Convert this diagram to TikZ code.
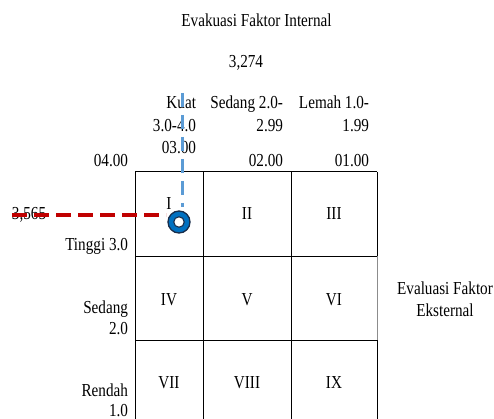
\documentclass[tikz,border=0pt]{standalone}
\usepackage{fontspec}
\setmainfont[FakeStretch=0.83]{Liberation Serif}
\definecolor{dkred}{RGB}{192,0,0}
\definecolor{ltblue}{RGB}{91,155,213}
\definecolor{ringblue}{RGB}{0,112,192}
\definecolor{ringedge}{RGB}{25,45,75}
\begin{document}
\begin{tikzpicture}[x=1pt,y=-1pt,
  every node/.style={inner sep=0pt, outer sep=0pt, font=\fontsize{18.3}{22}\selectfont},
  rlbl/.style={anchor=base east},
  clbl/.style={anchor=base},
  gridline/.style={line width=1pt, black},
  reddash/.style={dkred, line width=4pt, dash pattern=on 15pt off 7pt},
  bluedash/.style={ltblue, line width=3pt, dash pattern=on 14pt off 8pt}]
\useasboundingbox (0,0) rectangle (494,419);

% grid
\draw[gridline] (135,172) -- (377,172);
\draw[gridline] (135,256) -- (377,256);
\draw[gridline] (135,340) -- (377,340);
\draw[gridline] (135,172) -- (135,419);
\draw[gridline] (203,172) -- (203,419);
\draw[gridline] (291,172) -- (291,419);
\draw[gridline] (377,172) -- (377,256);
\draw[line width=1pt, black!45] (377,256) -- (377,340);
\draw[gridline] (377,340) -- (377,419);

% titles
\node[clbl] (title) at (256.5,27) {Evakuasi Faktor Internal};
\node[clbl] (ifas) at (246,68) {3,274};

% column headers
\node[rlbl] (kuat1) at (196,109) {Kuat};
\node[rlbl] (kuat2) at (196,132) {3.0-4.0};
\node[rlbl] (kuat3) at (196,154) {03.00};
\node[rlbl] (sed1) at (283,109) {Sedang 2.0-};
\node[rlbl] (sed2) at (283,132) {2.99};
\node[rlbl] (sed3) at (283,167) {02.00};
\node[rlbl] (lem1) at (369,109) {Lemah 1.0-};
\node[rlbl] (lem2) at (369,132) {1.99};
\node[rlbl] (lem3) at (369,167) {01.00};
\node[rlbl] (four) at (128,167) {04.00};

% row headers
\node[rlbl] (tinggi) at (128,250) {Tinggi 3.0};
\node[rlbl] (sedA) at (128,313) {Sedang};
\node[rlbl] (sedB) at (128,334) {2.0};
\node[rlbl] (renA) at (128,396) {Rendah};
\node[rlbl] (renB) at (128,416) {1.0};

% right label
\node[clbl] (efe1) at (445,294) {Evaluasi Faktor};
\node[clbl] (efe2) at (445,316) {Eksternal};

% cells
\node[clbl] (c1) at (169,210) {I};
\node[clbl] (c2) at (247,220) {II};
\node[clbl] (c3) at (334,220) {III};
\node[clbl] (c4) at (169,305) {IV};
\node[clbl] (c5) at (247,305) {V};
\node[clbl] (c6) at (334,305) {VI};
\node[clbl] (c7) at (169,388) {VII};
\node[clbl] (c8) at (247,388) {VIII};
\node[clbl] (c9) at (334,388) {IX};

% EFE value
\node[anchor=base west] (efeval) at (12,219) {3,565};

% position marker
\node[circle, fill=ringblue, draw=ringedge, line width=1.3pt, minimum size=22pt] (ring) at (179,222) {};
\node[circle, fill=white, draw=ringedge, line width=1.1pt, minimum size=10.5pt] (hole) at (ring.center) {};

% dashed guides
\coordinate (rstart) at (12,215);
\coordinate (rend) at (166,215);
\coordinate (bstart) at (182,93);
\coordinate (bend) at (182,207);
\draw[reddash] (rstart) -- (rend);
\draw[bluedash] (bstart) -- (bend);
\end{tikzpicture}
\end{document}
